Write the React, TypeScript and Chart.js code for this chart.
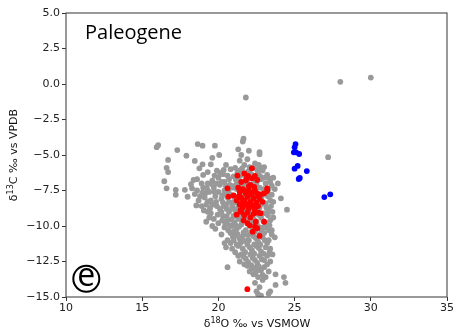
import React, { useEffect, useRef } from "react";
import { Chart, registerables } from "chart.js";

Chart.register(...registerables);

const xTicks = [10, 15, 20, 25, 30, 35];
const yTicks = [5, 2.5, 0, -2.5, -5, -7.5, -10, -12.5, -15];
const panelTitle = "Paleogene";
const panelLetter = "e";

const grayPoints: [number, number][] = [
  [28.0, 0.15], [30.0, 0.45], [21.8, -0.95], [27.2, -5.15], [21.65, -3.85], [21.6, -4.05],
  [22.0, -4.7], [22.7, -4.8], [22.7, -4.95], [21.3, -4.6], [21.5, -5.0], [21.4, -5.4],
  [21.9, -5.3], [22.4, -5.6], [22.8, -5.9], [23.0, -5.85], [23.6, -6.6], [24.1, -8.05],
  [24.5, -8.85], [23.7, -7.4], [23.9, -7.0], [23.5, -7.8],
  [15.95, -4.45], [16.05, -4.3], [16.7, -5.35], [16.6, -5.9], [16.7, -6.2], [16.45, -6.85],
  [16.6, -7.35], [17.2, -7.45], [17.2, -7.8], [17.8, -7.45], [17.9, -5.05], [17.3, -4.65],
  [18.64, -4.23], [18.96, -4.34], [19.77, -4.34], [20.05, -5.0], [18.45, -5.42], [18.96, -5.66],
  [19.5, -5.66], [18.75, -5.94], [18.2, -7.06], [18.37, -6.76], [18.27, -7.35], [17.98, -7.94],
  [20.5, -5.7], [19.3, -6.2], [19.9, -6.1], [20.3, -6.35], [20.8, -6.0], [19.6, -5.2],
  [18.6, -7.5], [18.8, -7.9], [19.0, -7.3], [19.1, -8.0], [19.2, -8.5], [19.3, -7.0],
  [19.4, -7.6], [19.5, -8.2], [19.6, -6.8], [19.7, -7.3], [19.8, -7.9], [19.9, -8.6],
  [19.5, -9.1], [19.7, -9.5], [19.3, -9.0], [20.0, -6.6], [20.1, -7.1], [20.0, -7.6],
  [20.2, -8.1], [20.1, -8.8], [20.3, -9.3], [20.0, -9.8], [20.4, -6.9], [20.5, -7.2],
  [20.4, -7.5], [20.6, -8.0], [20.5, -8.5], [20.7, -9.0], [20.6, -9.6], [20.4, -10.1],
  [20.8, -10.5], [20.7, -6.7], [20.9, -7.3], [20.8, -7.8], [21.0, -8.3], [20.9, -8.8],
  [21.0, -9.3], [21.1, -9.9], [21.0, -10.4], [19.0, -6.4], [18.6, -6.7], [19.9, -7.0],
  [19.2, -9.7], [19.8, -10.2], [20.2, -10.6], [18.9, -8.6], [19.6, -10.0], [18.9, -7.0],
  [19.15, -7.7], [19.45, -8.75], [19.85, -8.3], [20.25, -7.85], [20.65, -7.55], [20.35, -8.6],
  [20.55, -9.3], [20.85, -9.55], [20.2, -9.0], [19.75, -7.6], [19.3, -8.3], [18.7, -8.2],
  [20.4, -11.2], [20.6, -11.0], [20.5, -11.5], [20.8, -11.2], [21.0, -11.0], [20.9, -11.6],
  [21.2, -11.3], [20.6, -12.9],
  [21.1, -5.9], [21.4, -6.1], [21.7, -5.7], [22.0, -6.2], [22.3, -5.9], [22.6, -6.3],
  [22.9, -6.1], [23.2, -6.4], [21.0, -6.5], [21.3, -6.8], [21.6, -6.4], [21.9, -6.9],
  [22.2, -6.6], [22.5, -7.0], [22.8, -6.7], [23.1, -7.0], [23.4, -6.9], [20.9, -7.2],
  [21.2, -7.4], [21.5, -7.1], [21.8, -7.5], [22.1, -7.2], [22.4, -7.6], [22.7, -7.3],
  [23.0, -7.7], [23.3, -7.4], [21.0, -7.9], [21.3, -8.1], [21.6, -7.8], [21.9, -8.2],
  [22.2, -7.9], [22.5, -8.3], [22.8, -8.0], [23.1, -8.4], [23.4, -8.2], [20.9, -8.6],
  [21.2, -8.8], [21.5, -8.5], [21.8, -8.9], [22.1, -8.6], [22.4, -9.0], [22.7, -8.7],
  [23.0, -9.1], [23.3, -8.9], [21.0, -9.3], [21.3, -9.5], [21.6, -9.2], [21.9, -9.6],
  [22.2, -9.3], [22.5, -9.7], [22.8, -9.4], [23.1, -9.8], [23.4, -9.6], [20.9, -10.0],
  [21.2, -10.2], [21.5, -9.9], [21.8, -10.3], [22.1, -10.0], [22.4, -10.4], [22.7, -10.1],
  [23.0, -10.5], [23.3, -10.3], [21.1, -10.7], [21.4, -10.9], [21.7, -10.6], [22.0, -11.0],
  [22.3, -10.7], [22.6, -11.1], [22.9, -10.8], [23.2, -11.2], [21.3, -11.4], [21.6, -11.6],
  [21.9, -11.3], [22.2, -11.7], [22.5, -11.4], [22.8, -11.8], [23.1, -11.5], [21.5, -12.0],
  [21.8, -12.3], [22.1, -12.0], [22.4, -12.4], [22.7, -12.1], [23.0, -12.4],
  [21.25, -6.25], [21.55, -5.95], [21.85, -6.6], [22.15, -6.35], [22.45, -6.8], [22.75, -6.5],
  [23.05, -6.6], [21.15, -7.1], [21.45, -7.35], [21.75, -7.2], [22.05, -7.65], [22.35, -7.3],
  [22.65, -7.8], [22.95, -7.4], [23.25, -7.9], [21.05, -8.35], [21.35, -8.55], [21.65, -8.25],
  [21.95, -8.7], [22.25, -8.4], [22.55, -8.8], [22.85, -8.45], [23.15, -8.7], [21.15, -9.05],
  [21.45, -9.3], [21.75, -9.45], [22.05, -9.15], [22.35, -9.55], [22.65, -9.2], [22.95, -9.65],
  [23.25, -9.25], [21.05, -9.75], [21.35, -10.05], [21.65, -10.45], [21.95, -9.85], [22.25, -10.25],
  [22.55, -9.95], [22.85, -10.35], [23.15, -10.1], [21.25, -10.55], [21.55, -10.75], [21.85, -11.05],
  [22.15, -10.45], [22.45, -10.85], [22.75, -10.55], [23.05, -11.0], [21.45, -11.2], [21.75, -11.85],
  [22.05, -11.5], [22.35, -11.95], [22.65, -11.55], [22.95, -11.95], [21.65, -12.15], [21.95, -12.55],
  [22.25, -12.25], [22.55, -12.6], [22.85, -12.35],
  [21.9, -12.8], [22.2, -13.0], [22.5, -12.9], [22.8, -13.1], [22.3, -13.4], [22.6, -13.6],
  [22.9, -13.8], [22.4, -14.0], [22.7, -14.3], [22.5, -14.6], [22.8, -14.9], [22.6, -14.8],
  [23.1, -13.6], [23.3, -13.2], [23.4, -12.5], [23.75, -13.4], [24.3, -13.6], [24.4, -14.0],
  [23.75, -14.15], [23.4, -14.6], [23.3, -14.75], [21.3, -12.1], [23.0, -12.9], [23.6, -9.4],
  [23.5, -10.3], [23.7, -10.8], [23.4, -11.6], [22.7, -13.1], [23.55, -12.0],
  [20.1, -6.25], [20.35, -6.05], [20.6, -6.45], [20.2, -6.9], [20.45, -7.7], [20.75, -7.1],
  [20.3, -8.35], [20.7, -8.3], [20.55, -8.8], [20.25, -9.6], [20.45, -9.85], [20.75, -9.95],
  [20.65, -10.3], [20.95, -10.75], [19.95, -9.2], [19.6, -8.5], [19.25, -7.35], [19.55, -7.05],
  [18.95, -7.65], [19.05, -8.9], [19.4, -9.4], [18.45, -7.75], [18.55, -8.55], [19.75, -6.45],
  [21.35, -6.55], [21.95, -6.15], [22.55, -6.05], [23.35, -6.65], [23.5, -7.15], [23.6, -8.3],
  [23.45, -8.6], [23.55, -9.0], [23.35, -9.95], [23.5, -10.6], [23.3, -11.0], [23.35, -11.85],
  [21.1, -11.85], [21.4, -12.5], [21.7, -12.7], [22.05, -13.2], [22.45, -13.25], [22.9, -13.45],
  [23.2, -12.7], [23.2, -12.1], [22.15, -12.75], [22.65, -12.85], [21.95, -10.65], [22.75, -11.3],
  [22.35, -11.3], [21.65, -11.05], [22.95, -10.1], [22.25, -9.75], [21.55, -9.65], [21.35, -9.0],
  [22.85, -7.9], [22.25, -7.05], [21.65, -6.9], [21.15, -6.75], [22.05, -5.85], [22.65, -5.7],
];

const redPoints: [number, number][] = [
  [21.9, -14.45], [20.6, -7.35], [20.66, -7.93], [21.0, -7.85], [21.25, -6.45], [22.2, -5.94],
  [21.95, -6.48], [22.2, -6.64], [22.4, -6.48], [23.2, -7.54], [22.8, -7.77], [21.2, -9.2],
  [22.6, -9.06], [23.0, -9.7], [21.9, -9.8], [22.4, -10.05], [22.7, -10.7], [22.55, -10.16],
  [22.45, -9.7], [22.77, -9.1], [21.5, -6.9], [21.8, -6.8], [22.1, -7.1], [21.3, -7.3],
  [23.0, -7.7], [23.2, -7.35], [22.55, -6.76], [21.85, -6.64],
  [21.4, -7.6], [21.6, -7.4], [21.8, -7.7], [22.0, -7.5], [22.2, -7.8], [22.4, -7.5],
  [22.6, -7.9], [21.5, -8.0], [21.7, -8.2], [21.9, -7.95], [22.1, -8.3], [22.3, -8.05],
  [22.5, -8.35], [22.7, -8.1], [21.4, -8.5], [21.6, -8.7], [21.8, -8.45], [22.0, -8.8],
  [22.2, -8.55], [22.4, -8.9], [22.6, -8.6], [21.5, -9.0], [21.7, -9.25], [21.9, -9.05],
  [22.1, -9.4], [22.3, -9.15], [21.35, -7.9], [21.55, -8.35], [21.75, -7.55], [21.95, -8.6],
  [22.15, -7.65], [22.35, -8.7], [22.55, -7.7], [21.65, -9.6], [22.05, -9.95], [22.25, -10.4],
  [21.7, -6.3], [22.0, -7.2], [21.2, -8.2], [22.9, -8.3], [22.35, -7.25], [21.45, -8.9],
];

const bluePoints: [number, number][] = [
  [25.06, -4.23], [25.0, -4.46], [24.95, -4.81], [25.1, -4.81], [25.3, -4.93], [25.0, -5.96],
  [25.2, -5.77], [25.8, -6.13], [25.27, -6.69], [25.34, -6.62], [26.95, -7.96], [27.34, -7.77],
];

const toXY = (arr: [number, number][]) => arr.map(([x, y]) => ({ x, y }));
const fmtY = (v: number) => v.toFixed(1).replace("-", "\u2212");

const overlayPlugin = {
  id: "overlay",
  afterDraw(chart: any) {
    const { ctx, chartArea } = chart;
    const { left, right, top, bottom } = chartArea;
    ctx.save();
    ctx.strokeStyle = "#555";
    ctx.lineWidth = 1.2;
    ctx.strokeRect(left, top, right - left, bottom - top);

    ctx.fillStyle = "#000";
    ctx.font = '20px "Open Sans"';
    ctx.textAlign = "left";
    ctx.textBaseline = "alphabetic";
    ctx.fillText(panelTitle, 85, 39);

    ctx.beginPath();
    ctx.lineWidth = 2;
    ctx.strokeStyle = "#000";
    ctx.arc(86.3, 278.8, 13, 0, Math.PI * 2);
    ctx.stroke();
    ctx.font = '32px "Open Sans"';
    ctx.textAlign = "center";
    ctx.textBaseline = "middle";
    ctx.fillText(panelLetter, 86.3, 277);

    const drawTitle = (parts: [string, boolean][], cx: number, cy: number, rot: number) => {
      ctx.save();
      ctx.translate(cx, cy);
      ctx.rotate(rot);
      ctx.textBaseline = "alphabetic";
      ctx.textAlign = "left";
      const big = '11px "DejaVu Sans"';
      const small = '8px "DejaVu Sans"';
      let w = 0;
      for (const [t, sup] of parts) {
        ctx.font = sup ? small : big;
        w += ctx.measureText(t).width;
      }
      let x = -w / 2;
      for (const [t, sup] of parts) {
        ctx.font = sup ? small : big;
        ctx.fillStyle = "#111";
        ctx.fillText(t, x, sup ? -4 : 0);
        x += ctx.measureText(t).width;
      }
      ctx.restore();
    };
    drawTitle([["\u03b4", false], ["18", true], ["O \u2030 vs VSMOW", false]], 257, 327, 0);
    drawTitle([["\u03b4", false], ["13", true], ["C \u2030 vs VPDB", false]], 17, 155, -Math.PI / 2);
    ctx.restore();
  },
};

export default function App() {
  const ref = useRef<HTMLCanvasElement | null>(null);
  useEffect(() => {
    if (!ref.current) return;
    const tickFont = { family: "DejaVu Sans", size: 11 };
    const chart = new Chart(ref.current, {
      type: "scatter",
      data: {
        datasets: [
          { label: "gray", data: toXY(grayPoints), backgroundColor: "#999999", pointRadius: 2.9, borderWidth: 0, order: 3 },
          { label: "red", data: toXY(redPoints), backgroundColor: "#ff0000", pointRadius: 2.9, borderWidth: 0, order: 2 },
          { label: "blue", data: toXY(bluePoints), backgroundColor: "#0000ff", pointRadius: 2.9, borderWidth: 0, order: 1 },
        ],
      },
      options: {
        animation: false,
        responsive: false,
        maintainAspectRatio: false,
        layout: { padding: { top: 13, right: 6, left: 0, bottom: 0 } },
        plugins: { legend: { display: false }, tooltip: { enabled: false } },
        scales: {
          x: {
            type: "linear",
            min: 10,
            max: 35,
            afterBuildTicks: (s: any) => { s.ticks = xTicks.map((v) => ({ value: v })); },
            afterFit: (s: any) => { s.height = 35; },
            ticks: { font: tickFont, color: "#222", padding: 1, maxRotation: 0, callback: (v: any) => String(v) },
            grid: { display: true, drawOnChartArea: false, drawTicks: true, tickLength: 4, color: "#333" },
            border: { display: false },
          },
          y: {
            type: "linear",
            min: -15,
            max: 5,
            afterBuildTicks: (s: any) => { s.ticks = yTicks.map((v) => ({ value: v })); },
            afterFit: (s: any) => { s.width = 66; },
            ticks: { font: tickFont, color: "#222", padding: 2, callback: (v: any) => fmtY(Number(v)) },
            grid: { display: true, drawOnChartArea: false, drawTicks: true, tickLength: 4, color: "#333" },
            border: { display: false },
          },
        },
      },
      plugins: [overlayPlugin],
    } as any);
    return () => chart.destroy();
  }, []);
  return (
    <div style={{ position: "fixed", left: 0, top: 0, width: 455, height: 332, background: "#fff" }}>
      <canvas ref={ref} width={455} height={332} style={{ width: 455, height: 332 }} />
    </div>
  );
}
